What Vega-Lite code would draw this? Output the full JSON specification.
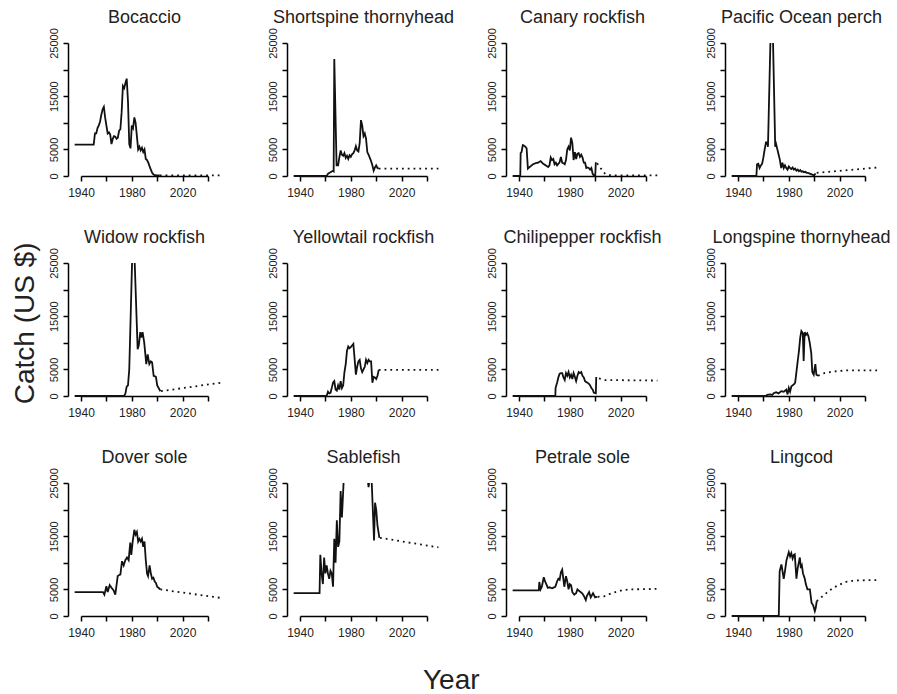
{
"$schema":"https://vega.github.io/schema/vega-lite/v6.json",
"padding":{"left":12,"top":8,"right":5,"bottom":0},
"config":{"font":"Liberation Sans","view":{"stroke":null},
"axis":{"grid":false,"domainColor":"#000","tickColor":"#000","labelColor":"#222","labelFont":"Liberation Sans","labelFontSize":11,"domainWidth":1.5,"tickWidth":1.5,"tickSize":5,"title":null}},
"data":{"values":[
{"species":"Bocaccio","kind":"obs","year":1935,"catch":5900},{"species":"Bocaccio","kind":"obs","year":1950,"catch":5900},{"species":"Bocaccio","kind":"obs","year":1951,"catch":8000},{"species":"Bocaccio","kind":"obs","year":1952,"catch":8000},{"species":"Bocaccio","kind":"obs","year":1953,"catch":9000},{"species":"Bocaccio","kind":"obs","year":1954,"catch":9500},{"species":"Bocaccio","kind":"obs","year":1955,"catch":10200},{"species":"Bocaccio","kind":"obs","year":1956,"catch":11500},{"species":"Bocaccio","kind":"obs","year":1957,"catch":12500},{"species":"Bocaccio","kind":"obs","year":1958,"catch":13000},{"species":"Bocaccio","kind":"obs","year":1959,"catch":11000},{"species":"Bocaccio","kind":"obs","year":1960,"catch":9500},{"species":"Bocaccio","kind":"obs","year":1961,"catch":8000},{"species":"Bocaccio","kind":"obs","year":1962,"catch":8200},{"species":"Bocaccio","kind":"obs","year":1963,"catch":7800},{"species":"Bocaccio","kind":"obs","year":1964,"catch":6000},{"species":"Bocaccio","kind":"obs","year":1965,"catch":7000},{"species":"Bocaccio","kind":"obs","year":1966,"catch":7500},{"species":"Bocaccio","kind":"obs","year":1967,"catch":7400},{"species":"Bocaccio","kind":"obs","year":1968,"catch":7000},{"species":"Bocaccio","kind":"obs","year":1969,"catch":7200},{"species":"Bocaccio","kind":"obs","year":1970,"catch":8500},{"species":"Bocaccio","kind":"obs","year":1971,"catch":8800},{"species":"Bocaccio","kind":"obs","year":1972,"catch":12000},{"species":"Bocaccio","kind":"obs","year":1973,"catch":16900},{"species":"Bocaccio","kind":"obs","year":1974,"catch":16500},{"species":"Bocaccio","kind":"obs","year":1975,"catch":17500},{"species":"Bocaccio","kind":"obs","year":1976,"catch":18300},{"species":"Bocaccio","kind":"obs","year":1977,"catch":14000},{"species":"Bocaccio","kind":"obs","year":1978,"catch":6000},{"species":"Bocaccio","kind":"obs","year":1979,"catch":5200},{"species":"Bocaccio","kind":"obs","year":1980,"catch":9500},{"species":"Bocaccio","kind":"obs","year":1981,"catch":9000},{"species":"Bocaccio","kind":"obs","year":1982,"catch":11000},{"species":"Bocaccio","kind":"obs","year":1983,"catch":10000},{"species":"Bocaccio","kind":"obs","year":1984,"catch":7500},{"species":"Bocaccio","kind":"obs","year":1985,"catch":5000},{"species":"Bocaccio","kind":"obs","year":1986,"catch":5500},{"species":"Bocaccio","kind":"obs","year":1987,"catch":4800},{"species":"Bocaccio","kind":"obs","year":1988,"catch":5300},{"species":"Bocaccio","kind":"obs","year":1989,"catch":4500},{"species":"Bocaccio","kind":"obs","year":1990,"catch":5000},{"species":"Bocaccio","kind":"obs","year":1991,"catch":3200},{"species":"Bocaccio","kind":"obs","year":1992,"catch":3000},{"species":"Bocaccio","kind":"obs","year":1993,"catch":2500},{"species":"Bocaccio","kind":"obs","year":1994,"catch":1800},{"species":"Bocaccio","kind":"obs","year":1995,"catch":1200},{"species":"Bocaccio","kind":"obs","year":1996,"catch":600},{"species":"Bocaccio","kind":"obs","year":1997,"catch":300},{"species":"Bocaccio","kind":"obs","year":1998,"catch":150},{"species":"Bocaccio","kind":"obs","year":2002,"catch":100},{"species":"Bocaccio","kind":"proj","year":2002,"catch":100},{"species":"Bocaccio","kind":"proj","year":2050,"catch":100},
{"species":"Shortspine thornyhead","kind":"obs","year":1935,"catch":0},{"species":"Shortspine thornyhead","kind":"obs","year":1961,"catch":0},{"species":"Shortspine thornyhead","kind":"obs","year":1962,"catch":400},{"species":"Shortspine thornyhead","kind":"obs","year":1964,"catch":700},{"species":"Shortspine thornyhead","kind":"obs","year":1966,"catch":1000},{"species":"Shortspine thornyhead","kind":"obs","year":1966.5,"catch":900},{"species":"Shortspine thornyhead","kind":"obs","year":1967,"catch":22000},{"species":"Shortspine thornyhead","kind":"obs","year":1968.8,"catch":2000},{"species":"Shortspine thornyhead","kind":"obs","year":1970,"catch":2000},{"species":"Shortspine thornyhead","kind":"obs","year":1971,"catch":3500},{"species":"Shortspine thornyhead","kind":"obs","year":1972,"catch":4800},{"species":"Shortspine thornyhead","kind":"obs","year":1973,"catch":4000},{"species":"Shortspine thornyhead","kind":"obs","year":1974,"catch":3800},{"species":"Shortspine thornyhead","kind":"obs","year":1975,"catch":4300},{"species":"Shortspine thornyhead","kind":"obs","year":1976,"catch":3400},{"species":"Shortspine thornyhead","kind":"obs","year":1977,"catch":3800},{"species":"Shortspine thornyhead","kind":"obs","year":1978,"catch":3200},{"species":"Shortspine thornyhead","kind":"obs","year":1979,"catch":3900},{"species":"Shortspine thornyhead","kind":"obs","year":1980,"catch":3600},{"species":"Shortspine thornyhead","kind":"obs","year":1981,"catch":4100},{"species":"Shortspine thornyhead","kind":"obs","year":1982,"catch":4300},{"species":"Shortspine thornyhead","kind":"obs","year":1983,"catch":4800},{"species":"Shortspine thornyhead","kind":"obs","year":1984,"catch":5600},{"species":"Shortspine thornyhead","kind":"obs","year":1985,"catch":4800},{"species":"Shortspine thornyhead","kind":"obs","year":1986,"catch":4600},{"species":"Shortspine thornyhead","kind":"obs","year":1987,"catch":6200},{"species":"Shortspine thornyhead","kind":"obs","year":1988,"catch":10500},{"species":"Shortspine thornyhead","kind":"obs","year":1989,"catch":9500},{"species":"Shortspine thornyhead","kind":"obs","year":1990,"catch":7500},{"species":"Shortspine thornyhead","kind":"obs","year":1991,"catch":8000},{"species":"Shortspine thornyhead","kind":"obs","year":1992,"catch":7000},{"species":"Shortspine thornyhead","kind":"obs","year":1993,"catch":4500},{"species":"Shortspine thornyhead","kind":"obs","year":1994,"catch":4000},{"species":"Shortspine thornyhead","kind":"obs","year":1995,"catch":3400},{"species":"Shortspine thornyhead","kind":"obs","year":1996,"catch":2800},{"species":"Shortspine thornyhead","kind":"obs","year":1997,"catch":2000},{"species":"Shortspine thornyhead","kind":"obs","year":1998,"catch":1000},{"species":"Shortspine thornyhead","kind":"obs","year":1999,"catch":1600},{"species":"Shortspine thornyhead","kind":"obs","year":2000,"catch":2000},{"species":"Shortspine thornyhead","kind":"obs","year":2001,"catch":1500},{"species":"Shortspine thornyhead","kind":"obs","year":2002,"catch":1400},{"species":"Shortspine thornyhead","kind":"proj","year":2002,"catch":1400},{"species":"Shortspine thornyhead","kind":"proj","year":2049,"catch":1400},
{"species":"Canary rockfish","kind":"obs","year":1935,"catch":0},{"species":"Canary rockfish","kind":"obs","year":1941,"catch":0},{"species":"Canary rockfish","kind":"obs","year":1941.3,"catch":4300},{"species":"Canary rockfish","kind":"obs","year":1942,"catch":4500},{"species":"Canary rockfish","kind":"obs","year":1943,"catch":5800},{"species":"Canary rockfish","kind":"obs","year":1944,"catch":5700},{"species":"Canary rockfish","kind":"obs","year":1945,"catch":5500},{"species":"Canary rockfish","kind":"obs","year":1946,"catch":5200},{"species":"Canary rockfish","kind":"obs","year":1947,"catch":1400},{"species":"Canary rockfish","kind":"obs","year":1949,"catch":1800},{"species":"Canary rockfish","kind":"obs","year":1951,"catch":2200},{"species":"Canary rockfish","kind":"obs","year":1953,"catch":2400},{"species":"Canary rockfish","kind":"obs","year":1955,"catch":2500},{"species":"Canary rockfish","kind":"obs","year":1957,"catch":2800},{"species":"Canary rockfish","kind":"obs","year":1959,"catch":2300},{"species":"Canary rockfish","kind":"obs","year":1961,"catch":2000},{"species":"Canary rockfish","kind":"obs","year":1963,"catch":1700},{"species":"Canary rockfish","kind":"obs","year":1964,"catch":2000},{"species":"Canary rockfish","kind":"obs","year":1965,"catch":3500},{"species":"Canary rockfish","kind":"obs","year":1966,"catch":3000},{"species":"Canary rockfish","kind":"obs","year":1967,"catch":3200},{"species":"Canary rockfish","kind":"obs","year":1968,"catch":2200},{"species":"Canary rockfish","kind":"obs","year":1969,"catch":2500},{"species":"Canary rockfish","kind":"obs","year":1970,"catch":2000},{"species":"Canary rockfish","kind":"obs","year":1971,"catch":2300},{"species":"Canary rockfish","kind":"obs","year":1972,"catch":2600},{"species":"Canary rockfish","kind":"obs","year":1973,"catch":3600},{"species":"Canary rockfish","kind":"obs","year":1974,"catch":2500},{"species":"Canary rockfish","kind":"obs","year":1975,"catch":2400},{"species":"Canary rockfish","kind":"obs","year":1976,"catch":2200},{"species":"Canary rockfish","kind":"obs","year":1977,"catch":3000},{"species":"Canary rockfish","kind":"obs","year":1978,"catch":5000},{"species":"Canary rockfish","kind":"obs","year":1979,"catch":5500},{"species":"Canary rockfish","kind":"obs","year":1980,"catch":4800},{"species":"Canary rockfish","kind":"obs","year":1981,"catch":7200},{"species":"Canary rockfish","kind":"obs","year":1982,"catch":6200},{"species":"Canary rockfish","kind":"obs","year":1983,"catch":3000},{"species":"Canary rockfish","kind":"obs","year":1984,"catch":4500},{"species":"Canary rockfish","kind":"obs","year":1985,"catch":3200},{"species":"Canary rockfish","kind":"obs","year":1986,"catch":4200},{"species":"Canary rockfish","kind":"obs","year":1987,"catch":4300},{"species":"Canary rockfish","kind":"obs","year":1988,"catch":3600},{"species":"Canary rockfish","kind":"obs","year":1989,"catch":4000},{"species":"Canary rockfish","kind":"obs","year":1990,"catch":3500},{"species":"Canary rockfish","kind":"obs","year":1991,"catch":2500},{"species":"Canary rockfish","kind":"obs","year":1992,"catch":2500},{"species":"Canary rockfish","kind":"obs","year":1993,"catch":1500},{"species":"Canary rockfish","kind":"obs","year":1994,"catch":1600},{"species":"Canary rockfish","kind":"obs","year":1995,"catch":1500},{"species":"Canary rockfish","kind":"obs","year":1996,"catch":1200},{"species":"Canary rockfish","kind":"obs","year":1997,"catch":1500},{"species":"Canary rockfish","kind":"obs","year":1998,"catch":400},{"species":"Canary rockfish","kind":"obs","year":1999,"catch":100},{"species":"Canary rockfish","kind":"obs","year":2000,"catch":0},{"species":"Canary rockfish","kind":"obs","year":2000.5,"catch":2600},{"species":"Canary rockfish","kind":"proj","year":2001.5,"catch":2400},{"species":"Canary rockfish","kind":"proj","year":2004,"catch":1600},{"species":"Canary rockfish","kind":"proj","year":2006,"catch":900},{"species":"Canary rockfish","kind":"proj","year":2008,"catch":400},{"species":"Canary rockfish","kind":"proj","year":2010,"catch":200},{"species":"Canary rockfish","kind":"proj","year":2015,"catch":100},{"species":"Canary rockfish","kind":"proj","year":2050,"catch":100},
{"species":"Pacific Ocean perch","kind":"obs","year":1935,"catch":0},{"species":"Pacific Ocean perch","kind":"obs","year":1954.5,"catch":0},{"species":"Pacific Ocean perch","kind":"obs","year":1955,"catch":2200},{"species":"Pacific Ocean perch","kind":"obs","year":1956,"catch":2300},{"species":"Pacific Ocean perch","kind":"obs","year":1957,"catch":1500},{"species":"Pacific Ocean perch","kind":"obs","year":1958,"catch":2000},{"species":"Pacific Ocean perch","kind":"obs","year":1959,"catch":2300},{"species":"Pacific Ocean perch","kind":"obs","year":1960,"catch":3500},{"species":"Pacific Ocean perch","kind":"obs","year":1961,"catch":5000},{"species":"Pacific Ocean perch","kind":"obs","year":1962,"catch":6300},{"species":"Pacific Ocean perch","kind":"obs","year":1963,"catch":6300},{"species":"Pacific Ocean perch","kind":"obs","year":1963.6,"catch":5500},{"species":"Pacific Ocean perch","kind":"obs","year":1965.5,"catch":25000},{"species":"Pacific Ocean perch","kind":"obs2","year":1967.6,"catch":25000},{"species":"Pacific Ocean perch","kind":"obs2","year":1969.3,"catch":5500},{"species":"Pacific Ocean perch","kind":"obs2","year":1970,"catch":6000},{"species":"Pacific Ocean perch","kind":"obs2","year":1971,"catch":5000},{"species":"Pacific Ocean perch","kind":"obs2","year":1972,"catch":4000},{"species":"Pacific Ocean perch","kind":"obs2","year":1973,"catch":3000},{"species":"Pacific Ocean perch","kind":"obs2","year":1974,"catch":1500},{"species":"Pacific Ocean perch","kind":"obs2","year":1975,"catch":2500},{"species":"Pacific Ocean perch","kind":"obs2","year":1976,"catch":1500},{"species":"Pacific Ocean perch","kind":"obs2","year":1977,"catch":2000},{"species":"Pacific Ocean perch","kind":"obs2","year":1978,"catch":1500},{"species":"Pacific Ocean perch","kind":"obs2","year":1979,"catch":1200},{"species":"Pacific Ocean perch","kind":"obs2","year":1980,"catch":1800},{"species":"Pacific Ocean perch","kind":"obs2","year":1981,"catch":1500},{"species":"Pacific Ocean perch","kind":"obs2","year":1982,"catch":1300},{"species":"Pacific Ocean perch","kind":"obs2","year":1983,"catch":1600},{"species":"Pacific Ocean perch","kind":"obs2","year":1984,"catch":1200},{"species":"Pacific Ocean perch","kind":"obs2","year":1985,"catch":1400},{"species":"Pacific Ocean perch","kind":"obs2","year":1986,"catch":1000},{"species":"Pacific Ocean perch","kind":"obs2","year":1987,"catch":1200},{"species":"Pacific Ocean perch","kind":"obs2","year":1988,"catch":900},{"species":"Pacific Ocean perch","kind":"obs2","year":1989,"catch":1100},{"species":"Pacific Ocean perch","kind":"obs2","year":1990,"catch":800},{"species":"Pacific Ocean perch","kind":"obs2","year":1991,"catch":900},{"species":"Pacific Ocean perch","kind":"obs2","year":1992,"catch":700},{"species":"Pacific Ocean perch","kind":"obs2","year":1993,"catch":800},{"species":"Pacific Ocean perch","kind":"obs2","year":1994,"catch":600},{"species":"Pacific Ocean perch","kind":"obs2","year":1995,"catch":600},{"species":"Pacific Ocean perch","kind":"obs2","year":1996,"catch":500},{"species":"Pacific Ocean perch","kind":"obs2","year":1997,"catch":400},{"species":"Pacific Ocean perch","kind":"obs2","year":1998,"catch":300},{"species":"Pacific Ocean perch","kind":"obs2","year":1999,"catch":200},{"species":"Pacific Ocean perch","kind":"obs2","year":2000,"catch":100},{"species":"Pacific Ocean perch","kind":"obs2","year":2001,"catch":500},{"species":"Pacific Ocean perch","kind":"proj","year":2002,"catch":600},{"species":"Pacific Ocean perch","kind":"proj","year":2050,"catch":1600},
{"species":"Widow rockfish","kind":"obs","year":1935,"catch":0},{"species":"Widow rockfish","kind":"obs","year":1974,"catch":0},{"species":"Widow rockfish","kind":"obs","year":1975,"catch":500},{"species":"Widow rockfish","kind":"obs","year":1976,"catch":1800},{"species":"Widow rockfish","kind":"obs","year":1977,"catch":2000},{"species":"Widow rockfish","kind":"obs","year":1978,"catch":5000},{"species":"Widow rockfish","kind":"obs","year":1979,"catch":14000},{"species":"Widow rockfish","kind":"obs","year":1980.2,"catch":25000},{"species":"Widow rockfish","kind":"obs2","year":1982.3,"catch":25000},{"species":"Widow rockfish","kind":"obs2","year":1984.6,"catch":8800},{"species":"Widow rockfish","kind":"obs2","year":1985.5,"catch":9500},{"species":"Widow rockfish","kind":"obs2","year":1986.7,"catch":12000},{"species":"Widow rockfish","kind":"obs2","year":1987.5,"catch":11000},{"species":"Widow rockfish","kind":"obs2","year":1988.5,"catch":12000},{"species":"Widow rockfish","kind":"obs2","year":1989.8,"catch":10000},{"species":"Widow rockfish","kind":"obs2","year":1991.4,"catch":6000},{"species":"Widow rockfish","kind":"obs2","year":1992.5,"catch":7800},{"species":"Widow rockfish","kind":"obs2","year":1993.8,"catch":6000},{"species":"Widow rockfish","kind":"obs2","year":1995,"catch":6500},{"species":"Widow rockfish","kind":"obs2","year":1996,"catch":6300},{"species":"Widow rockfish","kind":"obs2","year":1997.2,"catch":3800},{"species":"Widow rockfish","kind":"obs2","year":1999,"catch":3600},{"species":"Widow rockfish","kind":"obs2","year":2000,"catch":2000},{"species":"Widow rockfish","kind":"obs2","year":2002.5,"catch":900},{"species":"Widow rockfish","kind":"proj","year":2003,"catch":900},{"species":"Widow rockfish","kind":"proj","year":2050,"catch":2500},
{"species":"Yellowtail rockfish","kind":"obs","year":1935,"catch":0},{"species":"Yellowtail rockfish","kind":"obs","year":1961,"catch":0},{"species":"Yellowtail rockfish","kind":"obs","year":1962,"catch":800},{"species":"Yellowtail rockfish","kind":"obs","year":1963,"catch":500},{"species":"Yellowtail rockfish","kind":"obs","year":1964,"catch":600},{"species":"Yellowtail rockfish","kind":"obs","year":1965,"catch":1500},{"species":"Yellowtail rockfish","kind":"obs","year":1966,"catch":2500},{"species":"Yellowtail rockfish","kind":"obs","year":1967,"catch":2800},{"species":"Yellowtail rockfish","kind":"obs","year":1968,"catch":1200},{"species":"Yellowtail rockfish","kind":"obs","year":1969,"catch":1000},{"species":"Yellowtail rockfish","kind":"obs","year":1970,"catch":2000},{"species":"Yellowtail rockfish","kind":"obs","year":1971,"catch":1200},{"species":"Yellowtail rockfish","kind":"obs","year":1972,"catch":2800},{"species":"Yellowtail rockfish","kind":"obs","year":1973,"catch":1500},{"species":"Yellowtail rockfish","kind":"obs","year":1974,"catch":2000},{"species":"Yellowtail rockfish","kind":"obs","year":1975,"catch":4500},{"species":"Yellowtail rockfish","kind":"obs","year":1976,"catch":6000},{"species":"Yellowtail rockfish","kind":"obs","year":1977,"catch":8500},{"species":"Yellowtail rockfish","kind":"obs","year":1978,"catch":9300},{"species":"Yellowtail rockfish","kind":"obs","year":1979,"catch":9000},{"species":"Yellowtail rockfish","kind":"obs","year":1980,"catch":9200},{"species":"Yellowtail rockfish","kind":"obs","year":1981,"catch":9500},{"species":"Yellowtail rockfish","kind":"obs","year":1982,"catch":9800},{"species":"Yellowtail rockfish","kind":"obs","year":1983,"catch":7000},{"species":"Yellowtail rockfish","kind":"obs","year":1984,"catch":4000},{"species":"Yellowtail rockfish","kind":"obs","year":1985,"catch":5500},{"species":"Yellowtail rockfish","kind":"obs","year":1986,"catch":6500},{"species":"Yellowtail rockfish","kind":"obs","year":1987,"catch":6800},{"species":"Yellowtail rockfish","kind":"obs","year":1988,"catch":5200},{"species":"Yellowtail rockfish","kind":"obs","year":1989,"catch":4500},{"species":"Yellowtail rockfish","kind":"obs","year":1990,"catch":5000},{"species":"Yellowtail rockfish","kind":"obs","year":1991,"catch":5500},{"species":"Yellowtail rockfish","kind":"obs","year":1992,"catch":6800},{"species":"Yellowtail rockfish","kind":"obs","year":1993,"catch":6200},{"species":"Yellowtail rockfish","kind":"obs","year":1994,"catch":6800},{"species":"Yellowtail rockfish","kind":"obs","year":1995,"catch":6500},{"species":"Yellowtail rockfish","kind":"obs","year":1996,"catch":6500},{"species":"Yellowtail rockfish","kind":"obs","year":1997,"catch":2500},{"species":"Yellowtail rockfish","kind":"obs","year":1998,"catch":3600},{"species":"Yellowtail rockfish","kind":"obs","year":1999,"catch":3500},{"species":"Yellowtail rockfish","kind":"obs","year":2000,"catch":3200},{"species":"Yellowtail rockfish","kind":"obs","year":2001,"catch":3800},{"species":"Yellowtail rockfish","kind":"obs","year":2002,"catch":4900},{"species":"Yellowtail rockfish","kind":"proj","year":2002,"catch":4900},{"species":"Yellowtail rockfish","kind":"proj","year":2049,"catch":4900},
{"species":"Chilipepper rockfish","kind":"obs","year":1935,"catch":0},{"species":"Chilipepper rockfish","kind":"obs","year":1968.6,"catch":0},{"species":"Chilipepper rockfish","kind":"obs","year":1968.8,"catch":1500},{"species":"Chilipepper rockfish","kind":"obs","year":1970,"catch":2500},{"species":"Chilipepper rockfish","kind":"obs","year":1971,"catch":3500},{"species":"Chilipepper rockfish","kind":"obs","year":1972,"catch":4200},{"species":"Chilipepper rockfish","kind":"obs","year":1973,"catch":4300},{"species":"Chilipepper rockfish","kind":"obs","year":1974,"catch":4300},{"species":"Chilipepper rockfish","kind":"obs","year":1975,"catch":3500},{"species":"Chilipepper rockfish","kind":"obs","year":1976,"catch":3000},{"species":"Chilipepper rockfish","kind":"obs","year":1977,"catch":4300},{"species":"Chilipepper rockfish","kind":"obs","year":1978,"catch":3800},{"species":"Chilipepper rockfish","kind":"obs","year":1979,"catch":4500},{"species":"Chilipepper rockfish","kind":"obs","year":1980,"catch":3500},{"species":"Chilipepper rockfish","kind":"obs","year":1981,"catch":4000},{"species":"Chilipepper rockfish","kind":"obs","year":1982,"catch":3200},{"species":"Chilipepper rockfish","kind":"obs","year":1983,"catch":4300},{"species":"Chilipepper rockfish","kind":"obs","year":1984,"catch":3600},{"species":"Chilipepper rockfish","kind":"obs","year":1985,"catch":2800},{"species":"Chilipepper rockfish","kind":"obs","year":1986,"catch":3800},{"species":"Chilipepper rockfish","kind":"obs","year":1987,"catch":4500},{"species":"Chilipepper rockfish","kind":"obs","year":1988,"catch":4300},{"species":"Chilipepper rockfish","kind":"obs","year":1989,"catch":4500},{"species":"Chilipepper rockfish","kind":"obs","year":1990,"catch":3800},{"species":"Chilipepper rockfish","kind":"obs","year":1991,"catch":3500},{"species":"Chilipepper rockfish","kind":"obs","year":1992,"catch":2800},{"species":"Chilipepper rockfish","kind":"obs","year":1993,"catch":2600},{"species":"Chilipepper rockfish","kind":"obs","year":1994,"catch":2500},{"species":"Chilipepper rockfish","kind":"obs","year":1995,"catch":2300},{"species":"Chilipepper rockfish","kind":"obs","year":1996,"catch":2000},{"species":"Chilipepper rockfish","kind":"obs","year":1997,"catch":1500},{"species":"Chilipepper rockfish","kind":"obs","year":1998,"catch":1200},{"species":"Chilipepper rockfish","kind":"obs","year":1999,"catch":600},{"species":"Chilipepper rockfish","kind":"obs","year":2000.5,"catch":500},{"species":"Chilipepper rockfish","kind":"obs","year":2000.8,"catch":3400},{"species":"Chilipepper rockfish","kind":"obs","year":2001.5,"catch":3400},{"species":"Chilipepper rockfish","kind":"proj","year":2003,"catch":3300},{"species":"Chilipepper rockfish","kind":"proj","year":2008,"catch":3000},{"species":"Chilipepper rockfish","kind":"proj","year":2049,"catch":2900},
{"species":"Longspine thornyhead","kind":"obs","year":1935,"catch":0},{"species":"Longspine thornyhead","kind":"obs","year":1962,"catch":0},{"species":"Longspine thornyhead","kind":"obs","year":1963,"catch":200},{"species":"Longspine thornyhead","kind":"obs","year":1965,"catch":300},{"species":"Longspine thornyhead","kind":"obs","year":1967,"catch":200},{"species":"Longspine thornyhead","kind":"obs","year":1968,"catch":500},{"species":"Longspine thornyhead","kind":"obs","year":1970,"catch":700},{"species":"Longspine thornyhead","kind":"obs","year":1972,"catch":500},{"species":"Longspine thornyhead","kind":"obs","year":1974,"catch":900},{"species":"Longspine thornyhead","kind":"obs","year":1976,"catch":800},{"species":"Longspine thornyhead","kind":"obs","year":1978,"catch":1200},{"species":"Longspine thornyhead","kind":"obs","year":1979,"catch":300},{"species":"Longspine thornyhead","kind":"obs","year":1980,"catch":1500},{"species":"Longspine thornyhead","kind":"obs","year":1981,"catch":800},{"species":"Longspine thornyhead","kind":"obs","year":1982,"catch":1800},{"species":"Longspine thornyhead","kind":"obs","year":1983,"catch":2000},{"species":"Longspine thornyhead","kind":"obs","year":1984,"catch":2200},{"species":"Longspine thornyhead","kind":"obs","year":1985,"catch":2500},{"species":"Longspine thornyhead","kind":"obs","year":1986,"catch":4500},{"species":"Longspine thornyhead","kind":"obs","year":1987,"catch":6500},{"species":"Longspine thornyhead","kind":"obs","year":1988,"catch":8500},{"species":"Longspine thornyhead","kind":"obs","year":1989,"catch":11000},{"species":"Longspine thornyhead","kind":"obs","year":1989.9,"catch":12200},{"species":"Longspine thornyhead","kind":"obs","year":1991,"catch":11800},{"species":"Longspine thornyhead","kind":"obs","year":1991.7,"catch":6600},{"species":"Longspine thornyhead","kind":"obs","year":1992.5,"catch":12000},{"species":"Longspine thornyhead","kind":"obs","year":1993.5,"catch":11500},{"species":"Longspine thornyhead","kind":"obs","year":1994.5,"catch":11800},{"species":"Longspine thornyhead","kind":"obs","year":1995.5,"catch":11200},{"species":"Longspine thornyhead","kind":"obs","year":1996.5,"catch":10000},{"species":"Longspine thornyhead","kind":"obs","year":1997.7,"catch":8000},{"species":"Longspine thornyhead","kind":"obs","year":1998.5,"catch":4500},{"species":"Longspine thornyhead","kind":"obs","year":1999.6,"catch":4000},{"species":"Longspine thornyhead","kind":"obs","year":2000.9,"catch":6000},{"species":"Longspine thornyhead","kind":"obs","year":2001.7,"catch":4000},{"species":"Longspine thornyhead","kind":"obs","year":2003,"catch":3800},{"species":"Longspine thornyhead","kind":"proj","year":2003,"catch":3800},{"species":"Longspine thornyhead","kind":"proj","year":2008,"catch":4300},{"species":"Longspine thornyhead","kind":"proj","year":2015,"catch":4600},{"species":"Longspine thornyhead","kind":"proj","year":2025,"catch":4800},{"species":"Longspine thornyhead","kind":"proj","year":2050,"catch":4800},
{"species":"Dover sole","kind":"obs","year":1935,"catch":4500},{"species":"Dover sole","kind":"obs","year":1957.3,"catch":4500},{"species":"Dover sole","kind":"obs","year":1958.4,"catch":4000},{"species":"Dover sole","kind":"obs","year":1960,"catch":5600},{"species":"Dover sole","kind":"obs","year":1961,"catch":4500},{"species":"Dover sole","kind":"obs","year":1962.6,"catch":5800},{"species":"Dover sole","kind":"obs","year":1964.4,"catch":5200},{"species":"Dover sole","kind":"obs","year":1965.7,"catch":4800},{"species":"Dover sole","kind":"obs","year":1967,"catch":4000},{"species":"Dover sole","kind":"obs","year":1968.9,"catch":7500},{"species":"Dover sole","kind":"obs","year":1970,"catch":7700},{"species":"Dover sole","kind":"obs","year":1971,"catch":7800},{"species":"Dover sole","kind":"obs","year":1972.3,"catch":10300},{"species":"Dover sole","kind":"obs","year":1973.6,"catch":9500},{"species":"Dover sole","kind":"obs","year":1974.9,"catch":10500},{"species":"Dover sole","kind":"obs","year":1976.2,"catch":11000},{"species":"Dover sole","kind":"obs","year":1977.5,"catch":10500},{"species":"Dover sole","kind":"obs","year":1978.8,"catch":13800},{"species":"Dover sole","kind":"obs","year":1979.6,"catch":11500},{"species":"Dover sole","kind":"obs","year":1980.7,"catch":14000},{"species":"Dover sole","kind":"obs","year":1982,"catch":16200},{"species":"Dover sole","kind":"obs","year":1983,"catch":15300},{"species":"Dover sole","kind":"obs","year":1984,"catch":15800},{"species":"Dover sole","kind":"obs","year":1985,"catch":14000},{"species":"Dover sole","kind":"obs","year":1986,"catch":14500},{"species":"Dover sole","kind":"obs","year":1987,"catch":14000},{"species":"Dover sole","kind":"obs","year":1988,"catch":14500},{"species":"Dover sole","kind":"obs","year":1989,"catch":13000},{"species":"Dover sole","kind":"obs","year":1990,"catch":14000},{"species":"Dover sole","kind":"obs","year":1991,"catch":10500},{"species":"Dover sole","kind":"obs","year":1992,"catch":8000},{"species":"Dover sole","kind":"obs","year":1992.8,"catch":7500},{"species":"Dover sole","kind":"obs","year":1994,"catch":9500},{"species":"Dover sole","kind":"obs","year":1995,"catch":8000},{"species":"Dover sole","kind":"obs","year":1996,"catch":7000},{"species":"Dover sole","kind":"obs","year":1997,"catch":7200},{"species":"Dover sole","kind":"obs","year":1998,"catch":6500},{"species":"Dover sole","kind":"obs","year":1999,"catch":6200},{"species":"Dover sole","kind":"obs","year":2000,"catch":5500},{"species":"Dover sole","kind":"obs","year":2001,"catch":5300},{"species":"Dover sole","kind":"obs","year":2002.5,"catch":5000},{"species":"Dover sole","kind":"proj","year":2002.5,"catch":5000},{"species":"Dover sole","kind":"proj","year":2050,"catch":3400},
{"species":"Sablefish","kind":"obs","year":1935,"catch":4300},{"species":"Sablefish","kind":"obs","year":1955.4,"catch":4300},{"species":"Sablefish","kind":"obs","year":1956,"catch":11500},{"species":"Sablefish","kind":"obs","year":1957,"catch":8000},{"species":"Sablefish","kind":"obs","year":1958,"catch":6000},{"species":"Sablefish","kind":"obs","year":1959,"catch":11000},{"species":"Sablefish","kind":"obs","year":1960,"catch":8000},{"species":"Sablefish","kind":"obs","year":1961,"catch":9500},{"species":"Sablefish","kind":"obs","year":1962,"catch":8000},{"species":"Sablefish","kind":"obs","year":1963,"catch":7000},{"species":"Sablefish","kind":"obs","year":1964,"catch":8500},{"species":"Sablefish","kind":"obs","year":1965,"catch":8000},{"species":"Sablefish","kind":"obs","year":1966,"catch":5500},{"species":"Sablefish","kind":"obs","year":1967,"catch":14500},{"species":"Sablefish","kind":"obs","year":1968,"catch":10000},{"species":"Sablefish","kind":"obs","year":1969,"catch":18000},{"species":"Sablefish","kind":"obs","year":1970,"catch":13000},{"species":"Sablefish","kind":"obs","year":1971,"catch":14000},{"species":"Sablefish","kind":"obs","year":1972,"catch":23500},{"species":"Sablefish","kind":"obs","year":1973,"catch":18500},{"species":"Sablefish","kind":"obs","year":1974.3,"catch":25000},{"species":"Sablefish","kind":"obs2","year":1993.6,"catch":25000},{"species":"Sablefish","kind":"obs2","year":1994,"catch":24200},{"species":"Sablefish","kind":"obs2","year":1994.4,"catch":25000},{"species":"Sablefish","kind":"obs3","year":1996.5,"catch":25000},{"species":"Sablefish","kind":"obs3","year":1998.3,"catch":14200},{"species":"Sablefish","kind":"obs3","year":1999.1,"catch":21300},{"species":"Sablefish","kind":"obs3","year":2000,"catch":20000},{"species":"Sablefish","kind":"obs3","year":2001,"catch":17000},{"species":"Sablefish","kind":"obs3","year":2002.5,"catch":14700},{"species":"Sablefish","kind":"proj","year":2003,"catch":14700},{"species":"Sablefish","kind":"proj","year":2049,"catch":12900},
{"species":"Petrale sole","kind":"obs","year":1935,"catch":4800},{"species":"Petrale sole","kind":"obs","year":1955.6,"catch":4800},{"species":"Petrale sole","kind":"obs","year":1956,"catch":6400},{"species":"Petrale sole","kind":"obs","year":1957,"catch":5000},{"species":"Petrale sole","kind":"obs","year":1958,"catch":5500},{"species":"Petrale sole","kind":"obs","year":1959.5,"catch":7300},{"species":"Petrale sole","kind":"obs","year":1960.5,"catch":6500},{"species":"Petrale sole","kind":"obs","year":1961.5,"catch":6000},{"species":"Petrale sole","kind":"obs","year":1962.7,"catch":5300},{"species":"Petrale sole","kind":"obs","year":1964,"catch":5400},{"species":"Petrale sole","kind":"obs","year":1966,"catch":5200},{"species":"Petrale sole","kind":"obs","year":1968.6,"catch":5500},{"species":"Petrale sole","kind":"obs","year":1970,"catch":6500},{"species":"Petrale sole","kind":"obs","year":1971,"catch":7000},{"species":"Petrale sole","kind":"obs","year":1972,"catch":6800},{"species":"Petrale sole","kind":"obs","year":1973,"catch":8200},{"species":"Petrale sole","kind":"obs","year":1974,"catch":8700},{"species":"Petrale sole","kind":"obs","year":1975.7,"catch":5500},{"species":"Petrale sole","kind":"obs","year":1977,"catch":7500},{"species":"Petrale sole","kind":"obs","year":1978,"catch":6500},{"species":"Petrale sole","kind":"obs","year":1979,"catch":5000},{"species":"Petrale sole","kind":"obs","year":1980,"catch":6000},{"species":"Petrale sole","kind":"obs","year":1981,"catch":5800},{"species":"Petrale sole","kind":"obs","year":1982,"catch":4500},{"species":"Petrale sole","kind":"obs","year":1983.5,"catch":4000},{"species":"Petrale sole","kind":"obs","year":1985,"catch":4300},{"species":"Petrale sole","kind":"obs","year":1986,"catch":5000},{"species":"Petrale sole","kind":"obs","year":1987,"catch":4800},{"species":"Petrale sole","kind":"obs","year":1988.5,"catch":4500},{"species":"Petrale sole","kind":"obs","year":1990,"catch":4200},{"species":"Petrale sole","kind":"obs","year":1991,"catch":3800},{"species":"Petrale sole","kind":"obs","year":1992.6,"catch":3000},{"species":"Petrale sole","kind":"obs","year":1993.5,"catch":3800},{"species":"Petrale sole","kind":"obs","year":1995.2,"catch":4500},{"species":"Petrale sole","kind":"obs","year":1996.5,"catch":3500},{"species":"Petrale sole","kind":"obs","year":1998.3,"catch":4300},{"species":"Petrale sole","kind":"obs","year":1999.9,"catch":3500},{"species":"Petrale sole","kind":"obs","year":2001.7,"catch":3600},{"species":"Petrale sole","kind":"proj","year":2002,"catch":3600},{"species":"Petrale sole","kind":"proj","year":2007,"catch":3700},{"species":"Petrale sole","kind":"proj","year":2011,"catch":4100},{"species":"Petrale sole","kind":"proj","year":2016,"catch":4500},{"species":"Petrale sole","kind":"proj","year":2021,"catch":4800},{"species":"Petrale sole","kind":"proj","year":2027,"catch":5000},{"species":"Petrale sole","kind":"proj","year":2050,"catch":5100},
{"species":"Lingcod","kind":"obs","year":1935,"catch":0},{"species":"Lingcod","kind":"obs","year":1972.1,"catch":0},{"species":"Lingcod","kind":"obs","year":1972.8,"catch":8400},{"species":"Lingcod","kind":"obs","year":1974.2,"catch":9700},{"species":"Lingcod","kind":"obs","year":1976,"catch":7000},{"species":"Lingcod","kind":"obs","year":1977,"catch":8500},{"species":"Lingcod","kind":"obs","year":1978.2,"catch":10500},{"species":"Lingcod","kind":"obs","year":1980,"catch":12000},{"species":"Lingcod","kind":"obs","year":1981,"catch":11200},{"species":"Lingcod","kind":"obs","year":1982,"catch":11800},{"species":"Lingcod","kind":"obs","year":1983,"catch":10800},{"species":"Lingcod","kind":"obs","year":1984,"catch":11500},{"species":"Lingcod","kind":"obs","year":1984.7,"catch":11600},{"species":"Lingcod","kind":"obs","year":1986,"catch":7000},{"species":"Lingcod","kind":"obs","year":1987,"catch":9000},{"species":"Lingcod","kind":"obs","year":1988.7,"catch":11000},{"species":"Lingcod","kind":"obs","year":1989.5,"catch":9000},{"species":"Lingcod","kind":"obs","year":1990.3,"catch":9500},{"species":"Lingcod","kind":"obs","year":1991.2,"catch":8000},{"species":"Lingcod","kind":"obs","year":1992.6,"catch":7000},{"species":"Lingcod","kind":"obs","year":1993.4,"catch":6000},{"species":"Lingcod","kind":"obs","year":1994.7,"catch":5000},{"species":"Lingcod","kind":"obs","year":1996.6,"catch":5000},{"species":"Lingcod","kind":"obs","year":1997.9,"catch":2500},{"species":"Lingcod","kind":"obs","year":1999.2,"catch":2000},{"species":"Lingcod","kind":"obs","year":2000.5,"catch":900},{"species":"Lingcod","kind":"obs","year":2001.2,"catch":1500},{"species":"Lingcod","kind":"obs","year":2002,"catch":2800},{"species":"Lingcod","kind":"proj","year":2002,"catch":2800},{"species":"Lingcod","kind":"proj","year":2005,"catch":3400},{"species":"Lingcod","kind":"proj","year":2010,"catch":4400},{"species":"Lingcod","kind":"proj","year":2015,"catch":5300},{"species":"Lingcod","kind":"proj","year":2020,"catch":5900},{"species":"Lingcod","kind":"proj","year":2025,"catch":6400},{"species":"Lingcod","kind":"proj","year":2030,"catch":6600},{"species":"Lingcod","kind":"proj","year":2035,"catch":6700},{"species":"Lingcod","kind":"proj","year":2050,"catch":6750}
]},
"vconcat":[{
"title":{"text":"Catch (US $)","orient":"left","fontSize":28,"fontWeight":"normal","color":"#222","anchor":"middle","offset":8},
"facet":{"field":"species","type":"nominal","sort":["Bocaccio","Shortspine thornyhead","Canary rockfish","Pacific Ocean perch","Widow rockfish","Yellowtail rockfish","Chilipepper rockfish","Longspine thornyhead","Dover sole","Sablefish","Petrale sole","Lingcod"],
"header":{"title":null,"labelFontSize":18,"labelColor":"#222","labelPadding":1,"labelFont":"Liberation Sans"}},
"columns":4,
"spacing":{"row":87,"column":92},
"bounds":"flush",
"resolve":{"axis":{"x":"independent","y":"independent"}},
"spec":{
"width":127,"height":133,
"mark":{"type":"line","color":"#111","strokeWidth":1.8,"clip":false},
"encoding":{
"x":{"field":"year","type":"quantitative","scale":{"domain":[1940,2040],"nice":false,"zero":false},
"axis":{"values":[1940,1960,1980,2000,2020,2040],"format":"d","labelExpr":"datum.value == 1960 || datum.value == 2000 || datum.value == 2040 ? '' : datum.label","labelFlush":false,"labelOverlap":false,"labelPadding":6,"labelFontSize":12}},
"y":{"field":"catch","type":"quantitative","scale":{"domain":[0,25000],"nice":false},
"axis":{"values":[0,5000,10000,15000,20000,25000],"format":"d","labelExpr":"datum.value == 10000 || datum.value == 20000 ? '' : datum.label","labelAngle":-90,"offset":13,"labelPadding":4,"labelOverlap":false,"labelFlush":false}},
"strokeDash":{"field":"kind","type":"nominal","scale":{"domain":["obs","obs2","obs3","proj"],"range":[[1,0],[1,0],[1,0],[1.8,4]]},"legend":null}
}}
}],
"title":{"text":"Year","orient":"bottom","fontSize":28,"fontWeight":"normal","color":"#222","anchor":"middle","offset":29}
}
